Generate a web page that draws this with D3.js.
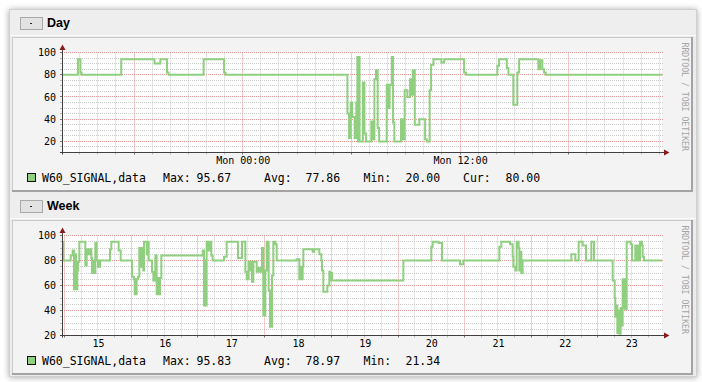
<!DOCTYPE html>
<html><head><meta charset="utf-8">
<script src="https://cdn.jsdelivr.net/npm/d3@7"></script>
<style>
html,body{margin:0;padding:0;background:#fff;}
svg{display:block;}
</style></head>
<body>
<svg id="c" width="702" height="382"></svg>
<script>
// ---------------- DATA ----------------
const seriesName = "W60_SIGNAL,data";

// Day: hours relative to Monday 00:00
const dayHours = [-9.98,-9.10,-8.96,-8.90,-6.71,-4.87,-4.55,-4.18,-4.10,-2.16,-1.03,-0.95,
  5.78,5.87,5.96,6.05,6.18,6.27,6.33,6.37,6.41,6.45,6.63,6.72,6.81,
  7.10,7.14,7.18,7.22,7.27,7.36,7.45,7.53,7.95,7.99,8.03,8.07,8.11,8.23,8.30,8.37,
  8.74,8.85,8.94,9.09,9.24,9.28,9.32,9.36,9.39,9.50,9.75,10.07,10.16,
  10.32,10.40,10.53,10.97,11.12,12.22,12.33,14.06,14.15,14.58,14.67,14.94,15.16,15.26,
  16.32,16.42,16.54,16.64,16.73,23.15];
const dayValues = [80,94,82,80,94,90,94,82,80,94,82,80,
  45,23,55,42,23,55,96,20,96,20,73,27,20,
  38,22,38,22,76,84,32,20,71,50,71,50,71,96,37,20,
  40,22,66,60,76,62,76,62,84,35,40,22,20,
  66,89,94,91,94,82,80,88,94,86,80,53,82,94,
  85,93,85,82,80,80];
const dayXDomain = [-9.98, 23.15];
const dayYDomain = [10, 100];
const dayXTicks = [0, 12];
const dayXTickLabels = ["Mon 00:00", "Mon 12:00"];
const dayYTicks = [20, 40, 60, 80, 100];
const dayStatLabels = ["Max:", "Avg:", "Min:", "Cur:"];
const dayStatValues = ["95.67", "77.86", "20.00", "80.00"];

// Week: day of month (fractional)
const weekDays = [14.96,14.98,15.09,15.12,15.14,15.16,15.17,15.19,15.20,15.22,15.31,15.33,15.35,15.38,15.40,
  15.41,15.43,15.44,15.46,15.48,15.50,15.53,15.68,15.70,15.81,15.84,
  16.01,16.04,16.05,16.08,16.10,16.12,16.13,16.15,16.16,16.18,16.19,16.23,16.24,16.26,
  16.31,16.33,16.36,16.38,16.40,16.42,16.43,16.45,
  17.07,17.09,17.10,17.12,17.13,17.16,17.18,17.20,17.22,17.39,17.43,17.60,17.66,
  17.71,17.73,17.76,17.78,17.80,17.81,17.83,17.88,17.90,17.93,17.96,17.98,
  18.01,18.03,18.06,18.08,18.11,18.13,18.16,18.18,18.48,18.52,18.54,18.55,18.57,18.58,
  18.72,18.74,18.82,18.85,18.86,18.88,18.94,18.97,18.98,19.00,19.01,
  20.08,20.50,20.52,20.61,20.66,20.93,20.98,
  21.52,21.55,21.68,21.72,21.73,21.76,21.78,21.81,21.82,21.84,21.85,21.87,
  22.60,22.66,22.71,22.77,22.82,22.90,22.94,
  23.22,23.25,23.26,23.28,23.29,23.31,23.32,23.34,23.35,23.37,23.38,23.40,23.41,23.43,
  23.49,23.51,23.56,23.58,23.60,23.62,23.63,23.66,23.67,23.69,23.96];
const weekValues = [95,80,84,88,57,85,57,72,79,95,76,89,85,89,82,
  70,80,70,94,80,75,80,89,95,88,80,
  67,65,53,65,67,90,75,90,75,72,95,85,95,80,
  71,64,84,53,66,53,66,84,
  88,44,80,44,95,88,95,84,80,83,95,82,95,
  71,65,79,72,79,63,79,71,74,71,90,36,
  72,95,56,27,68,95,93,80,81,65,75,65,75,89,
  87,89,85,80,72,55,60,71,64,70,64,
  80,91,95,94,80,77,80,
  91,95,93,83,75,72,95,90,72,87,70,80,
  85,80,95,92,80,95,80,
  64,50,35,44,22,40,21.5,42,28,65,42,65,41,95,
  93,80,92,80,92,80,95,92,83,80,80];
const weekXDomain = [14.96, 23.96];
const weekYDomain = [20, 100];
const weekXTicks = [15.5, 16.5, 17.5, 18.5, 19.5, 20.5, 21.5, 22.5, 23.5];
const weekXTickLabels = ["15", "16", "17", "18", "19", "20", "21", "22", "23"];
const weekYTicks = [20, 40, 60, 80, 100];
const weekStatLabels = ["Max:", "Avg:", "Min:"];
const weekStatValues = ["95.83", "78.97", "21.34"];

// ---------------- DRAW ----------------
const MONO = "'DejaVu Sans Mono', monospace";
const GREEN = "#8fcf7f";
const svg = d3.select("#c");
const defs = svg.append("defs");
const flt = defs.append("filter").attr("id","sh").attr("x","-5%").attr("y","-5%").attr("width","110%").attr("height","110%");
flt.append("feDropShadow").attr("dx",0).attr("dy",0.5).attr("stdDeviation",3).attr("flood-color","#000").attr("flood-opacity",0.35);

svg.append("rect").attr("x",9).attr("y",9).attr("width",688).attr("height",368)
  .attr("fill","#ececec").attr("filter","url(#sh)");
svg.append("rect").attr("x",9.5).attr("y",9.5).attr("width",687).attr("height",367)
  .attr("fill","none").attr("stroke","#d0d0d0");

const statLabelX = [163, 264, 363.5, 463];
const statValueX = [196.5, 305.5, 405.5, 505.5];

function panel(cfg) {
  const T = cfg.top;
  const g = svg.append("g");
  // header
  g.append("rect").attr("x",10).attr("y",T).attr("width",686).attr("height",25).attr("fill","#eeeeee");
  g.append("rect").attr("x",10).attr("y",T+25).attr("width",686).attr("height",1).attr("fill","#fbfbfb");
  g.append("rect").attr("x",20.5).attr("y",T+7.5).attr("width",22).attr("height",12)
    .attr("fill","#e2e2e2").attr("stroke","#a9a9a9");
  g.append("rect").attr("x",30).attr("y",T+13).attr("width",2).attr("height",1).attr("fill","#222");
  g.append("text").attr("x",47).attr("y",T+17).text(cfg.title)
    .attr("font-family","'Liberation Sans', Arial, sans-serif").attr("font-weight","bold")
    .attr("font-size",12.5).attr("fill","#000");

  // image
  const IT = T + 27;
  g.append("rect").attr("x",12).attr("y",IT).attr("width",681).attr("height",155).attr("fill","#f3f3f3");
  g.append("rect").attr("x",12).attr("y",IT).attr("width",681).attr("height",1).attr("fill","#c9c9c9");
  g.append("rect").attr("x",12).attr("y",IT).attr("width",1).attr("height",155).attr("fill","#c9c9c9");
  g.append("rect").attr("x",691).attr("y",IT).attr("width",2).attr("height",155).attr("fill","#a3a3a3");
  g.append("rect").attr("x",12).attr("y",IT+153).attr("width",681).attr("height",2).attr("fill","#a3a3a3");

  const plotTop = IT + 15.5, plotBottom = plotTop + 100;
  const X0 = 62, X1 = 662;
  const x = d3.scaleLinear().domain(cfg.xDomain).range([X0, X1]);
  const y = d3.scaleLinear().domain(cfg.yDomain).range([plotBottom, plotTop]);
  const crisp = v => Math.round(v - 0.5) + 0.5;

  g.append("rect").attr("x",X0).attr("y",plotTop).attr("width",X1-X0).attr("height",100).attr("fill","#ffffff");

  // grids
  const yMinor = d3.range(cfg.yDomain[0], cfg.yDomain[1] + 0.01, 5).filter(v => v % 20 !== 0 && v > cfg.yDomain[0]);
  const yMajor = cfg.yTicks;
  const xMinor = d3.range(Math.ceil(cfg.xDomain[0] / cfg.xMinorStep) * cfg.xMinorStep, cfg.xDomain[1], cfg.xMinorStep)
    .filter(v => Math.abs(v / cfg.xMajorStep - Math.round(v / cfg.xMajorStep)) > 1e-6);
  const xMajor = d3.range(Math.ceil(cfg.xDomain[0] / cfg.xMajorStep) * cfg.xMajorStep, cfg.xDomain[1], cfg.xMajorStep);

  const grid = g.append("g");
  function hline(v, col) {
    const yy = crisp(y(v));
    grid.append("line").attr("x1",X0).attr("x2",X1+2).attr("y1",yy).attr("y2",yy)
      .attr("stroke",col).attr("stroke-dasharray","1,1");
    grid.append("line").attr("x1",X0-2).attr("x2",X0).attr("y1",yy).attr("y2",yy).attr("stroke",col === "#cccccc" ? "#bbbbbb" : "#777");
  }
  function vline(v, col) {
    const xx = crisp(x(v));
    grid.append("line").attr("x1",xx).attr("x2",xx).attr("y1",plotTop).attr("y2",plotBottom)
      .attr("stroke",col).attr("stroke-dasharray","1,1");
    grid.append("line").attr("x1",xx).attr("x2",xx).attr("y1",plotBottom).attr("y2",plotBottom+2).attr("stroke",col === "#cccccc" ? "#bbbbbb" : "#777");
  }
  yMinor.forEach(v => hline(v, "#cccccc"));
  xMinor.forEach(v => vline(v, "#cccccc"));
  yMajor.filter(v => v > cfg.yDomain[0]).forEach(v => hline(v, "#e89595"));
  xMajor.forEach(v => vline(v, "#e89595"));

  // data line
  const cid = "clip" + cfg.title;
  defs.append("clipPath").attr("id", cid).append("rect")
    .attr("x",X0).attr("y",plotTop-2).attr("width",X1-X0).attr("height",104);
  const pts = cfg.xs.map((d,i) => [d, cfg.vs[i]]);
  const line = d3.line().x(d => x(d[0])).y(d => y(d[1])).curve(d3.curveStepAfter);
  g.append("path").datum(pts).attr("d", line).attr("fill","none")
    .attr("stroke",GREEN).attr("stroke-width",2).attr("clip-path","url(#" + cid + ")");

  // axes lines
  g.append("line").attr("x1",X0-2).attr("x2",X1+4).attr("y1",plotBottom).attr("y2",plotBottom).attr("stroke","#404040");
  g.append("line").attr("x1",X0+0.5).attr("x2",X0+0.5).attr("y1",plotBottom+2).attr("y2",plotTop-4).attr("stroke","#404040");
  g.append("path").attr("d",`M${X1+2},${plotBottom-3}L${X1+2},${plotBottom+3}L${X1+7.5},${plotBottom}Z`).attr("fill","#8b1c1c");
  g.append("path").attr("d",`M${X0-2.5},${plotTop-2.5}L${X0+3.5},${plotTop-2.5}L${X0+0.5},${plotTop-8}Z`).attr("fill","#8b1c1c");

  // axis labels
  const ay = g.append("g").attr("transform",`translate(${X0},0)`)
    .call(d3.axisLeft(y).tickValues(cfg.yTicks).tickSize(0).tickPadding(6));
  ay.select(".domain").remove();
  ay.attr("font-family", MONO).attr("font-size", 10);
  ay.selectAll("text").attr("fill","#000");

  const ax = g.append("g").attr("transform",`translate(0,${plotBottom})`)
    .call(d3.axisBottom(x).tickValues(cfg.xTicks).tickFormat((d,i) => cfg.xTickLabels[i]).tickSize(0).tickPadding(4.5));
  ax.select(".domain").remove();
  ax.attr("font-family", MONO).attr("font-size", 10);
  ax.selectAll("text").attr("fill","#000");

  // watermark
  g.append("text").attr("transform",`translate(682,${plotTop-10}) rotate(90)`)
    .attr("font-family", MONO).attr("font-size", 8.2).attr("fill","#a4a4a4")
    .text("RRDTOOL / TOBI OETIKER");

  // legend
  const ly = plotTop + 129.5;
  g.append("rect").attr("x",27.5).attr("y",plotTop+121).attr("width",8).attr("height",8)
    .attr("fill",GREEN).attr("stroke","#111");
  const lg = g.append("g").attr("font-family", MONO).attr("font-size", 11.5).attr("fill","#000");
  lg.append("text").attr("x",42).attr("y",ly).text(seriesName);
  cfg.statLabels.forEach((s,i) => {
    lg.append("text").attr("x",statLabelX[i]).attr("y",ly).text(s);
    lg.append("text").attr("x",statValueX[i]).attr("y",ly).text(cfg.statValues[i]);
  });
}

panel({top:10, title:"Day", xs:dayHours, vs:dayValues, xDomain:dayXDomain, yDomain:dayYDomain,
  xTicks:dayXTicks, xTickLabels:dayXTickLabels, yTicks:dayYTicks, xMinorStep:1, xMajorStep:6,
  statLabels:dayStatLabels, statValues:dayStatValues});
panel({top:193, title:"Week", xs:weekDays, vs:weekValues, xDomain:weekXDomain, yDomain:weekYDomain,
  xTicks:weekXTicks, xTickLabels:weekXTickLabels, yTicks:weekYTicks, xMinorStep:0.25, xMajorStep:1,
  statLabels:weekStatLabels, statValues:weekStatValues});
</script>
</body></html>
